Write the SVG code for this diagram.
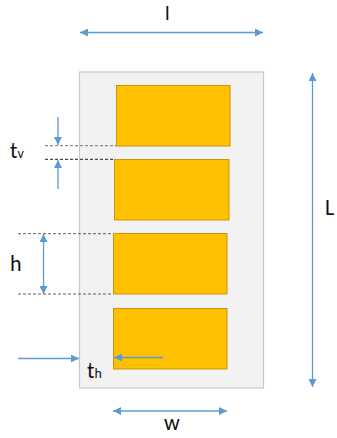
<svg xmlns="http://www.w3.org/2000/svg" width="337" height="438" viewBox="0 0 337 438">
<style>
.lbl{font-family:Calibri,"Liberation Sans",Arial,sans-serif;fill:#111;font-size:22px}
.sub{font-family:Calibri,"Liberation Sans",Arial,sans-serif;fill:#111;font-size:14px}
.arr{stroke:#5B9BD5;stroke-width:1.3;fill:none}
.dash{stroke-width:1;stroke-dasharray:3 2;fill:none}
.cell{fill:#FFC000;stroke:#C9960C;stroke-width:1}
</style>
<defs>
<marker id="ah" viewBox="0 0 10 10" refX="10" refY="5" markerWidth="8" markerHeight="8" markerUnits="userSpaceOnUse" orient="auto-start-reverse">
<path d="M0,0 L10,5 L0,10 z" fill="#5B9BD5"/>
</marker>
</defs>
<g id="panel">
<rect x="79.5" y="72" width="184" height="316" fill="#F2F2F2" stroke="#C8C8C8" stroke-width="1.2"/>
</g>
<g id="cell1"><rect class="cell" x="116.5" y="85.5" width="113.5" height="60.5"/></g>
<g id="cell2"><rect class="cell" x="114.5" y="159.5" width="114.5" height="60.5"/></g>
<g id="cell3"><rect class="cell" x="113.5" y="233.5" width="113.5" height="60.5"/></g>
<g id="cell4"><rect class="cell" x="113.5" y="308.5" width="113.5" height="60.5"/></g>
<g id="connectors">
<line class="arr" x1="80" y1="32.5" x2="263" y2="32.5" marker-start="url(#ah)" marker-end="url(#ah)"/>
<line class="arr" x1="312.5" y1="73" x2="312.5" y2="387" marker-start="url(#ah)" marker-end="url(#ah)"/>
<line class="arr" x1="113" y1="411" x2="227" y2="411" marker-start="url(#ah)" marker-end="url(#ah)"/>
<line class="arr" x1="43.5" y1="234" x2="43.5" y2="294" marker-start="url(#ah)" marker-end="url(#ah)"/>
<line class="arr" x1="58" y1="117" x2="58" y2="145" marker-end="url(#ah)"/>
<line class="arr" x1="58" y1="189" x2="58" y2="160" marker-end="url(#ah)"/>
<line class="arr" x1="18" y1="358.5" x2="79" y2="358.5" marker-end="url(#ah)"/>
<line class="arr" x1="163" y1="357.5" x2="114" y2="357.5" marker-end="url(#ah)"/>
<line class="dash" stroke="#707070" x1="45" y1="145.7" x2="116" y2="145.7"/>
<line class="dash" stroke="#202020" x1="45" y1="159.3" x2="114" y2="159.3"/>
<line class="dash" stroke="#606060" x1="18" y1="233.7" x2="113" y2="233.7"/>
<line class="dash" stroke="#606060" x1="18" y1="294" x2="113" y2="294"/>
</g>
<g id="labels">
<text class="lbl" x="165" y="19.5" style="font-size:20px">l</text>
<text class="lbl" x="325" y="215">L</text>
<text class="lbl" x="164" y="430">w</text>
<text class="lbl" x="10" y="271">h</text>
<text class="lbl" x="10" y="158">t<tspan class="sub">v</tspan></text>
<text class="lbl" x="87" y="378">t<tspan class="sub">h</tspan></text>
</g>
</svg>
